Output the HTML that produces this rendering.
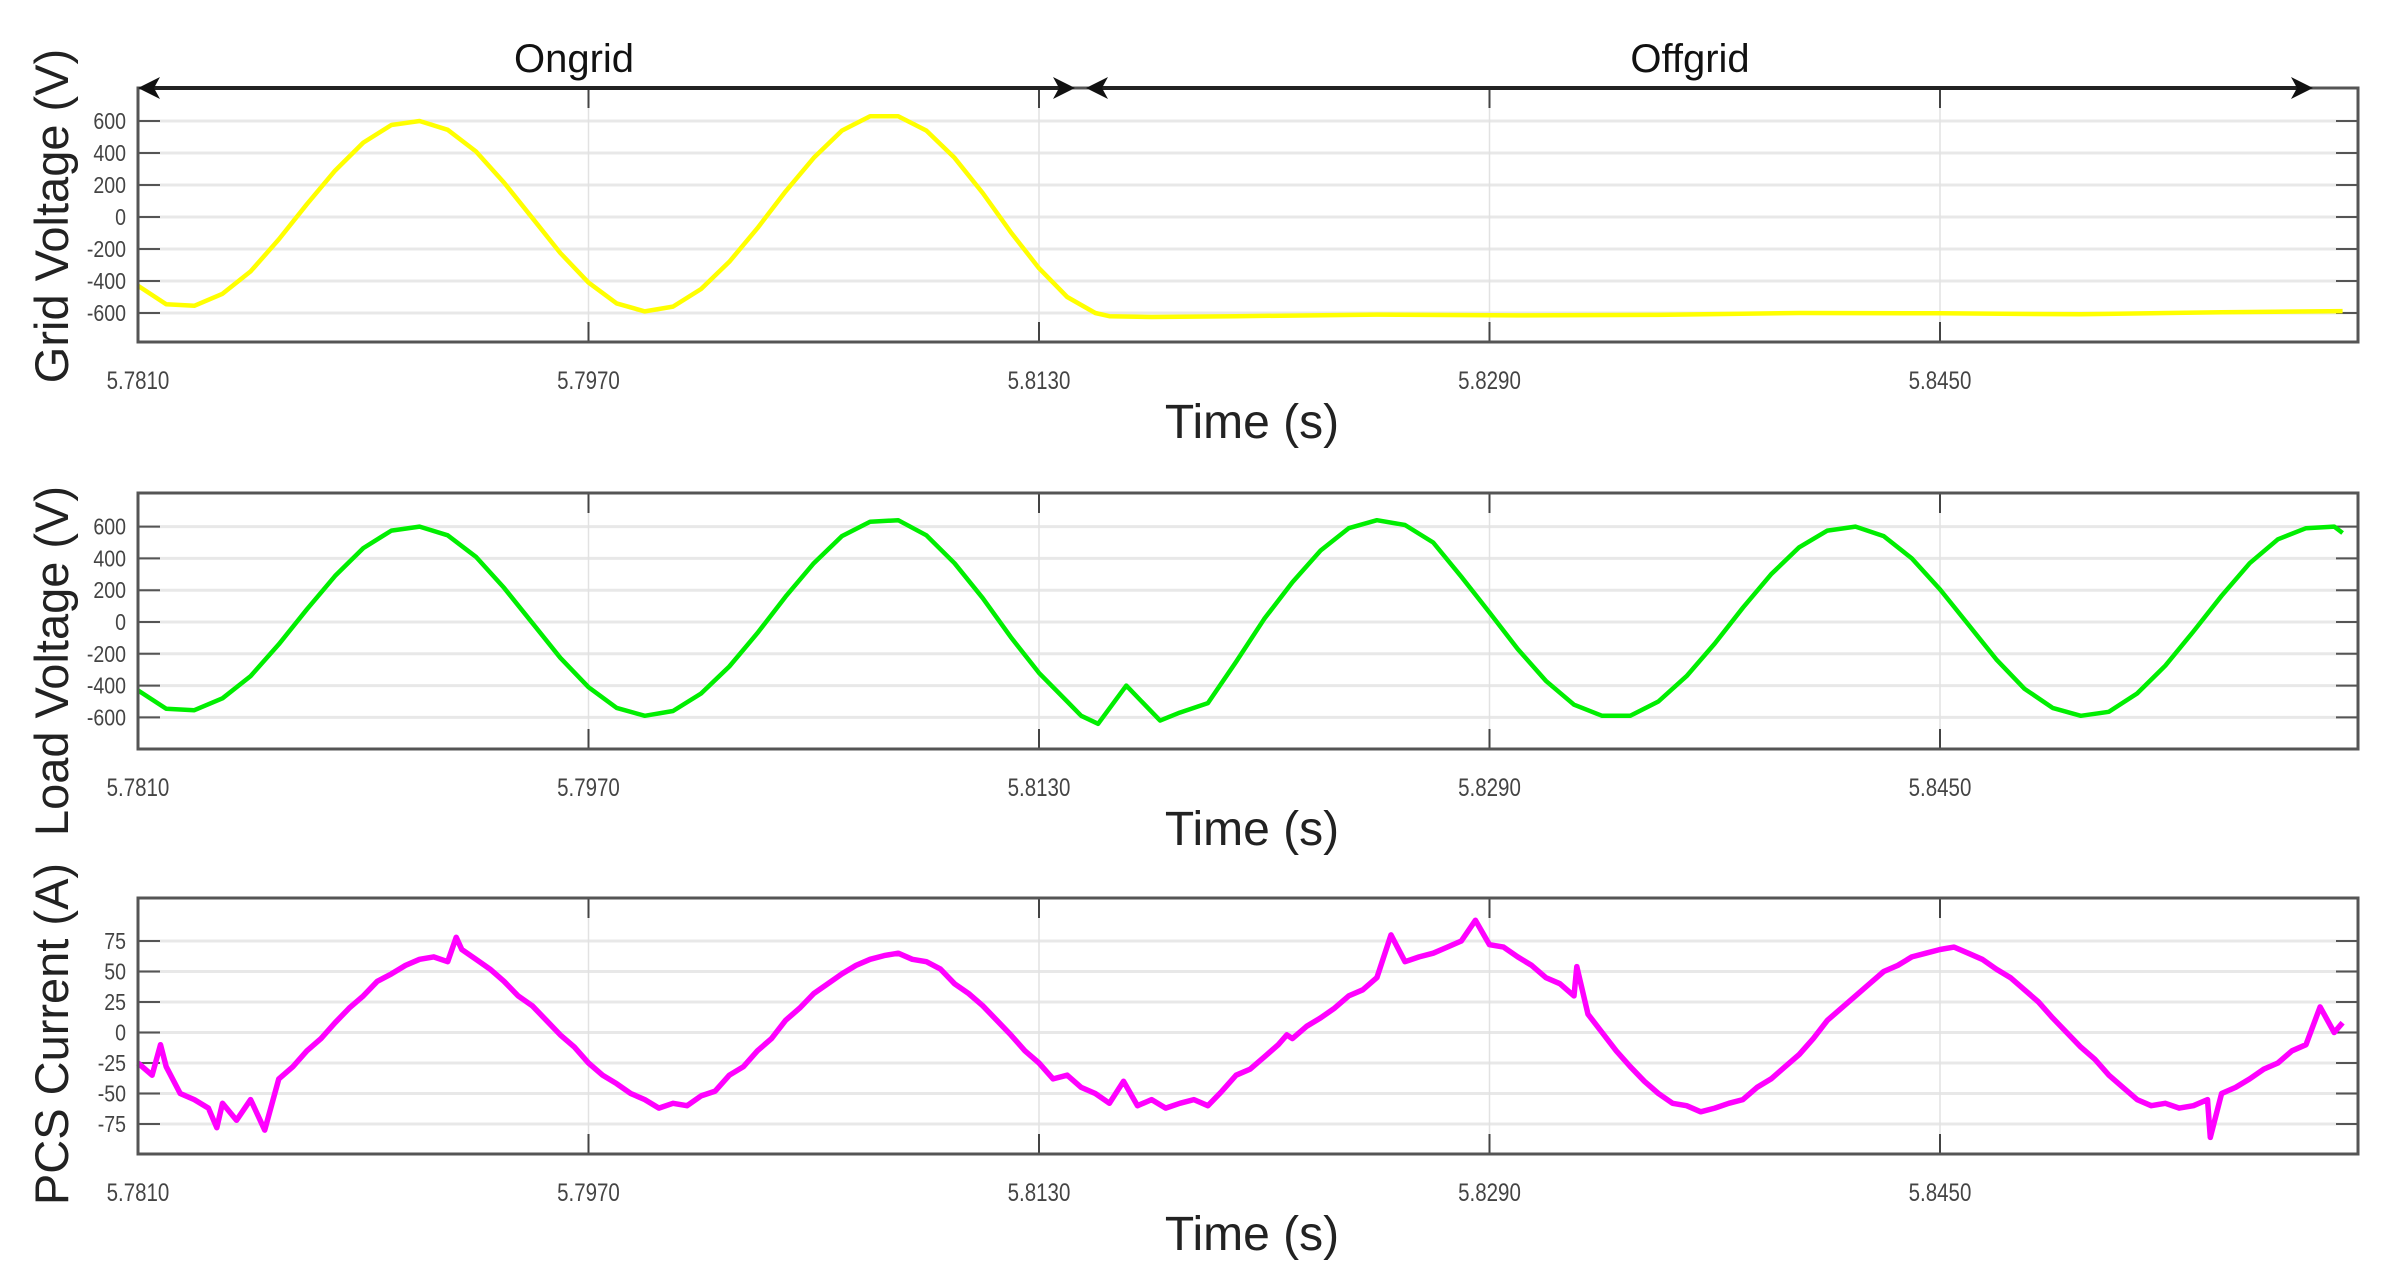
<!DOCTYPE html>
<html><head><meta charset="utf-8"><style>
html,body{margin:0;padding:0;background:#fff;}
svg{display:block;}
text{font-family:"Liberation Sans",sans-serif;}
</style></head><body>
<svg id="fig" width="2385" height="1282" viewBox="0 0 2385 1282" xmlns="http://www.w3.org/2000/svg">
<rect width="2385" height="1282" fill="#fff"/>
<g id="annot">
  <line x1="150" y1="88" x2="1063" y2="88" stroke="#222" stroke-width="4"/>
  <polygon points="138,88 160,77 154,88 160,99" fill="#111"/>
  <polygon points="1075,88 1053,77 1059,88 1053,99" fill="#111"/>
  <line x1="1098" y1="88" x2="2300" y2="88" stroke="#222" stroke-width="4"/>
  <polygon points="1086,88 1108,77 1102,88 1108,99" fill="#111"/>
  <polygon points="2313,88 2291,77 2297,88 2291,99" fill="#111"/>
  <text x="574" y="72" font-size="40" text-anchor="middle" fill="#111">Ongrid</text>
  <text x="1690" y="72" font-size="40" text-anchor="middle" fill="#111">Offgrid</text>
</g>
</svg>
<script>
// ---- data ----
const xTicks = [5.7810, 5.7970, 5.8130, 5.8290, 5.8450];
const xTickLabels = ["5.7810","5.7970","5.8130","5.8290","5.8450"];
const voltTicks = [600,400,200,0,-200,-400,-600];
const voltTickLabels = ["600","400","200","0","-200","-400","-600"];
const currTicks = [75,50,25,0,-25,-50,-75];
const currTickLabels = ["75","50","25","0","-25","-50","-75"];

const gridT = [5.781,5.782,5.783,5.784,5.785,5.786,5.787,5.788,5.789,5.790,5.791,5.792,5.793,5.794,5.795,5.796,5.797,5.798,5.799,5.800,5.801,5.802,5.803,5.804,5.805,5.806,5.807,5.808,5.809,5.810,5.811,5.812,5.813,5.814,5.815,5.8155,5.817,5.820,5.825,5.830,5.835,5.840,5.845,5.850,5.855,5.8593];
const gridV = [-430,-545,-555,-480,-340,-140,80,290,465,575,600,545,410,215,-5,-225,-410,-540,-590,-560,-450,-280,-70,160,370,540,630,630,540,370,150,-95,-320,-500,-600,-620,-625,-620,-610,-615,-612,-600,-602,-608,-595,-588];

const loadT = [5.781,5.782,5.783,5.784,5.785,5.786,5.787,5.788,5.789,5.790,5.791,5.792,5.793,5.794,5.795,5.796,5.797,5.798,5.799,5.800,5.801,5.802,5.803,5.804,5.805,5.806,5.807,5.808,5.809,5.810,5.811,5.812,5.813,5.814,5.8145,5.8151,5.8161,5.8173,5.818,5.819,5.820,5.821,5.822,5.823,5.824,5.825,5.826,5.827,5.828,5.829,5.830,5.831,5.832,5.833,5.834,5.835,5.836,5.837,5.838,5.839,5.840,5.841,5.842,5.843,5.844,5.845,5.846,5.847,5.848,5.849,5.850,5.851,5.852,5.853,5.854,5.855,5.856,5.857,5.858,5.859,5.8593];
const loadV = [-430,-545,-555,-480,-340,-140,80,290,465,575,600,545,410,215,-5,-225,-410,-540,-590,-560,-450,-280,-70,160,370,540,630,640,545,370,150,-95,-320,-500,-590,-640,-400,-620,-570,-510,-250,20,250,450,590,640,610,500,285,60,-170,-370,-520,-590,-590,-500,-340,-135,90,300,470,575,600,540,400,205,-15,-235,-420,-540,-590,-565,-450,-275,-60,165,370,520,590,600,560];

const pcsT = [5.7810,5.7815,5.7818,5.7820,5.7825,5.7830,5.7835,5.7838,5.7840,5.7845,5.7850,5.7855,5.7860,5.7865,5.7870,5.7875,5.7880,5.7885,5.7890,5.7895,5.7900,5.7905,5.7910,5.7915,5.7920,5.7923,5.7925,5.7930,5.7935,5.7940,5.7945,5.7950,5.7955,5.7960,5.7965,5.7970,5.7975,5.7980,5.7985,5.7990,5.7995,5.8000,5.8005,5.8010,5.8015,5.8020,5.8025,5.8030,5.8035,5.8040,5.8045,5.8050,5.8055,5.8060,5.8065,5.8070,5.8075,5.8080,5.8085,5.8090,5.8095,5.8100,5.8105,5.8110,5.8115,5.8120,5.8125,5.8130,5.8135,5.8140,5.8145,5.8150,5.8155,5.8160,5.8165,5.8170,5.8175,5.8180,5.8185,5.8190,5.8195,5.8200,5.8205,5.8210,5.8215,5.8218,5.8220,5.8225,5.8230,5.8235,5.8240,5.8245,5.8250,5.8255,5.8260,5.8265,5.8270,5.8275,5.8280,5.8285,5.8290,5.8295,5.8300,5.8305,5.8310,5.8315,5.8320,5.8321,5.8325,5.8330,5.8335,5.8340,5.8345,5.8350,5.8355,5.8360,5.8365,5.8370,5.8375,5.8380,5.8385,5.8390,5.8395,5.8400,5.8405,5.8410,5.8415,5.8420,5.8425,5.8430,5.8435,5.8440,5.8445,5.8450,5.8455,5.8460,5.8465,5.8470,5.8475,5.8480,5.8485,5.8490,5.8495,5.8500,5.8505,5.8510,5.8515,5.8520,5.8525,5.8530,5.8535,5.8540,5.8545,5.8546,5.8550,5.8555,5.8560,5.8565,5.8570,5.8575,5.8580,5.8585,5.8590,5.8593];
const pcsI = [-25,-35,-10,-28,-50,-55,-62,-78,-58,-72,-55,-80,-38,-28,-15,-5,8,20,30,42,48,55,60,62,58,78,68,60,52,42,30,22,10,-2,-12,-25,-35,-42,-50,-55,-62,-58,-60,-52,-48,-35,-28,-15,-5,10,20,32,40,48,55,60,63,65,60,58,52,40,32,22,10,-2,-15,-25,-38,-35,-45,-50,-58,-40,-60,-55,-62,-58,-55,-60,-48,-35,-30,-20,-10,-2,-5,5,12,20,30,35,45,80,58,62,65,70,75,92,72,70,62,55,45,40,30,54,15,0,-15,-28,-40,-50,-58,-60,-65,-62,-58,-55,-45,-38,-28,-18,-5,10,20,30,40,50,55,62,65,68,70,65,60,52,45,35,25,12,0,-12,-22,-35,-45,-55,-60,-58,-62,-60,-55,-86,-50,-45,-38,-30,-25,-15,-10,21,0,8];

// ---- layout ----
const svg = document.getElementById('fig');
const NS = 'http://www.w3.org/2000/svg';
const X0 = 138, X1 = 2358, T0 = 5.7810, PXPER = 450.5 / 0.016;
function xScale(t){ return X0 + (t - T0) * PXPER; }
function mk(tag, attrs, parent){ const e = document.createElementNS(NS, tag); for (const k in attrs) e.setAttribute(k, attrs[k]); (parent||svg).appendChild(e); return e; }

const panels = [
  {name:'grid-voltage', top:88, bottom:342, zeroY:217, unitPx:32/200, ticks:voltTicks, labels:voltTickLabels, title:'Grid Voltage (V)', titleY:216, t:gridT, v:gridV, color:'#ffff00', timeY:438, sw:4.5},
  {name:'load-voltage', top:493, bottom:749, zeroY:622, unitPx:31.8/200, ticks:voltTicks, labels:voltTickLabels, title:'Load Voltage (V)', titleY:661, t:loadT, v:loadV, color:'#00ee00', timeY:845, sw:4.5},
  {name:'pcs-current', top:898, bottom:1154, zeroY:1032.5, unitPx:30.5/25, ticks:currTicks, labels:currTickLabels, title:'PCS Current (A)', titleY:1034, t:pcsT, v:pcsI, color:'#ff00ff', timeY:1250, sw:5.5}
];

panels.forEach(p => {
  const yScale = v => p.zeroY - v * p.unitPx;
  const g = mk('g', {});
  
  
  p.ticks.forEach((tv, i) => {
    const y = yScale(tv);
    const gl = mk('line', {x1:X0, x2:X1, y1:y, y2:y, stroke:'#e8e8e8', 'stroke-width':3}, g);
    
    
    mk('line', {x1:X0, x2:X0+22, y1:y, y2:y, stroke:'#555', 'stroke-width':2}, g);
    mk('line', {x1:X1-22, x2:X1, y1:y, y2:y, stroke:'#555', 'stroke-width':2}, g);
    const lab = mk('text', {x:126, y:y+8, 'font-size':23, 'text-anchor':'end', fill:'#444', transform:`translate(126 0) scale(0.85 1) translate(-126 0)`}, g);
    lab.textContent = p.labels[i];
    
    
  });
  xTicks.forEach((tv, i) => {
    const x = xScale(tv);
    mk('line', {x1:x, x2:x, y1:p.top, y2:p.bottom, stroke:'#e2e2e2', 'stroke-width':1.5}, g);
    mk('line', {x1:x, x2:x, y1:p.top, y2:p.top+20, stroke:'#444', 'stroke-width':2}, g);
    mk('line', {x1:x, x2:x, y1:p.bottom-20, y2:p.bottom, stroke:'#444', 'stroke-width':2}, g);
    const lab = mk('text', {x:x, y:p.bottom+47, 'font-size':25, 'text-anchor':'middle', fill:'#444', transform:`translate(${x} 0) scale(0.82 1) translate(${-x} 0)`}, g);
    lab.textContent = xTickLabels[i];
    
    
  });
  const pts = p.t.map((t, i) => xScale(t).toFixed(1) + ',' + yScale(p.v[i]).toFixed(1)).join(' ');
  const line = mk('polyline', {points:pts, fill:'none', stroke:p.color, 'stroke-width':p.sw, 'stroke-linejoin':'round'}, g);
  
  
  const fr = mk('rect', {x:X0, y:p.top, width:X1-X0, height:p.bottom-p.top, fill:'none', stroke:'#555', 'stroke-width':3}, g);
  
  
  const yt = mk('text', {x:0, y:0, 'font-size':47, 'text-anchor':'middle', fill:'#222', transform:`translate(68 ${p.titleY}) rotate(-90)`}, g);
  yt.textContent = p.title;
  
  
  const xt = mk('text', {x:1252, y:p.timeY, 'font-size':48, 'text-anchor':'middle', fill:'#222'}, g);
  xt.textContent = 'Time (s)';
  
  
});
svg.appendChild(document.getElementById('annot'));
</script>
</body></html>
